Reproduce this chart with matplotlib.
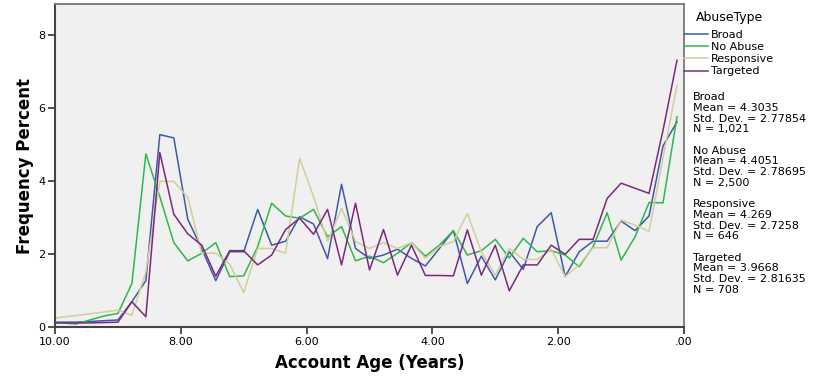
import matplotlib.pyplot as plt
import numpy as np

# account age bins (years), first entry is the left edge of the axis
n_bins = 45
ages = [10.0] + [10 - (k + 0.5) * 10 / n_bins for k in range(n_bins)]

broad = [0.14, 0.14, 0.14, 0.16, 0.18, 0.20, 0.70, 1.28, 5.28, 5.19, 2.96,
         2.15, 1.28, 2.07, 2.07, 3.23, 2.25, 2.36, 3.03, 2.83, 1.88, 3.92,
         2.16, 1.89, 1.98, 2.14, 1.89, 1.68, 2.16, 2.65, 1.20, 1.95, 1.30,
         2.07, 1.59, 2.76, 3.14, 1.39, 2.07, 2.36, 2.36, 2.91, 2.65, 3.05,
         4.97, 5.63]
no_abuse = [0.13, 0.12, 0.09, 0.20, 0.31, 0.38, 1.20, 4.75, 3.58, 2.32, 1.82,
            2.03, 2.32, 1.39, 1.41, 2.21, 3.40, 3.05, 2.99, 3.23, 2.48, 2.76,
            1.82, 1.95, 1.77, 2.03, 2.32, 1.95, 2.25, 2.65, 1.98, 2.10, 2.41,
            1.90, 2.44, 2.07, 2.10, 1.98, 1.66, 2.21, 3.14, 1.84, 2.48, 3.42,
            3.41, 5.77]
responsive = [0.25, 0.28, 0.32, 0.37, 0.42, 0.47, 0.33, 1.52, 4.00, 4.00, 3.56,
              2.03, 2.03, 1.73, 0.95, 2.16, 2.16, 2.03, 4.63, 3.58, 2.35, 3.26,
              2.35, 2.16, 2.32, 2.16, 2.32, 1.89, 2.21, 2.35, 3.12, 2.07, 1.43,
              2.16, 1.86, 1.86, 2.14, 1.39, 1.71, 2.18, 2.18, 2.94, 2.80, 2.63,
              4.64, 6.64]
targeted = [0.12, 0.12, 0.12, 0.12, 0.13, 0.14, 0.70, 0.29, 4.79, 3.10, 2.56,
            2.25, 1.40, 2.10, 2.10, 1.71, 1.98, 2.68, 2.99, 2.55, 3.23, 1.71,
            3.40, 1.57, 2.68, 1.43, 2.25, 1.42, 1.42, 1.41, 2.67, 1.43, 2.25,
            1.00, 1.71, 1.71, 2.25, 2.00, 2.41, 2.41, 3.53, 3.95, 3.81, 3.67,
            5.40, 7.32]

groups = ['Broad', 'No Abuse', 'Responsive', 'Targeted']
colors = ['#3E58AC', '#2EB848', '#D3CE97', '#7C287D']
means = ['4.3035', '4.4051', '4.269', '3.9668']
stds = ['2.77854', '2.78695', '2.7258', '2.81635']
counts = ['1,021', '2,500', '646', '708']

xticks = [10, 8, 6, 4, 2, 0]
xticklabels = ['10.00', '8.00', '6.00', '4.00', '2.00', '.00']
yticks = [0, 2, 4, 6, 8]

W, H = 829, 381
fig = plt.figure(figsize=(W / 100, H / 100), dpi=100)
ax = fig.add_axes([55 / W, (H - 327.3) / H, (684 - 55) / W, (327.3 - 4) / H])
ax.set_facecolor('#F0F0F0')

series = [broad, no_abuse, responsive, targeted]
for vals, name, c in zip(series, groups, colors):
    ax.plot(ages, vals, color=c, lw=1.1, label=name)

ax.set_xlim(10, 0)
ax.set_ylim(0, 8.86)
ax.set_xticks(xticks)
ax.set_xticklabels(xticklabels)
ax.set_yticks(yticks)
ax.tick_params(labelsize=8, length=5, width=1.2, color='#333333', pad=2)

for s in ['left', 'bottom']:
    ax.spines[s].set_color('#444444')
    ax.spines[s].set_linewidth(1.5)
for s in ['top', 'right']:
    ax.spines[s].set_color('#777777')
    ax.spines[s].set_linewidth(1.3)

ax.set_xlabel('Account Age (Years)', fontsize=12, fontweight='bold', labelpad=5)
ax.set_ylabel('Frequency Percent', fontsize=12, fontweight='bold', labelpad=3)

leg = ax.legend(loc='upper left', bbox_to_anchor=(682 / W, 1 - 9 / H),
                bbox_transform=fig.transFigure, frameon=False, fontsize=8,
                title='AbuseType', title_fontsize=9, handlelength=2.1,
                handletextpad=0.3, labelspacing=0.2, borderaxespad=0,
                borderpad=0.2)
leg._legend_box.sep = 4

# summary statistics beside the plot
y = 97.3
for name, m, sd, n in zip(groups, means, stds, counts):
    for line in [name, 'Mean = ' + m, 'Std. Dev. = ' + sd, 'N = ' + n]:
        fig.text(693 / W, 1 - y / H, line, fontsize=8, va='center', ha='left')
        y += 10.7
    y += 10.7

fig.savefig('out.png', dpi=100)
